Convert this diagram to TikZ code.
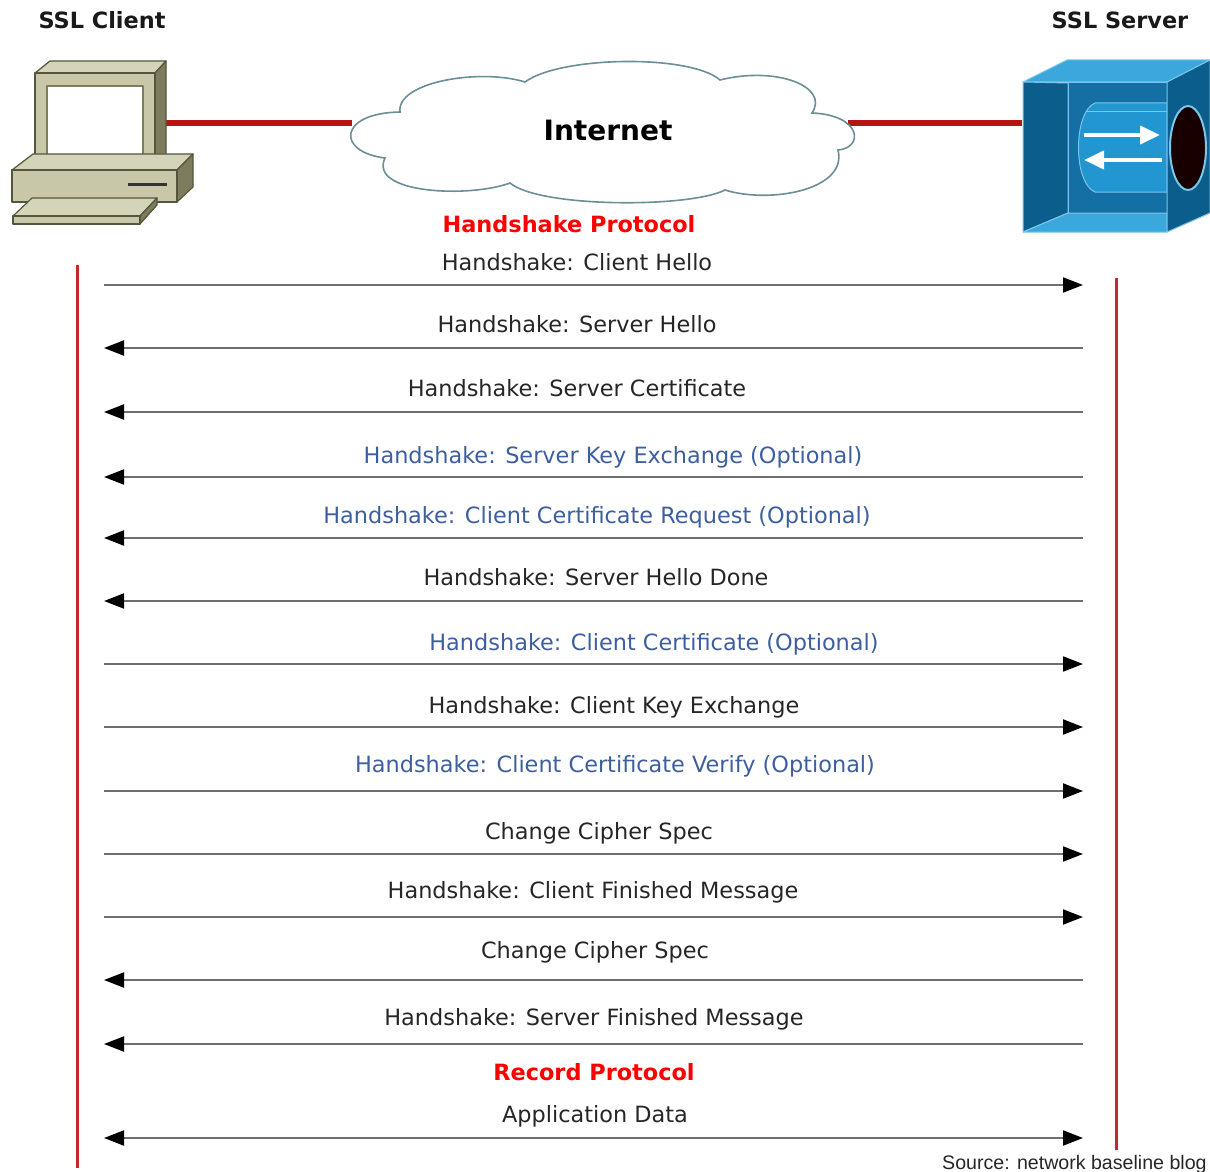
\documentclass[tikz,border=0pt]{standalone}
\usepackage{fontspec}
\setmainfont{DejaVu Sans}
\newfontfamily\srcfont{Liberation Sans}
\usetikzlibrary{arrows.meta}

\definecolor{linkred}{RGB}{180,22,22}
\definecolor{lifered}{RGB}{200,40,45}
\definecolor{optblue}{RGB}{61,95,160}
\definecolor{msggray}{RGB}{110,110,110}
\definecolor{pcfront}{RGB}{200,200,168}
\definecolor{pctop}{RGB}{212,212,184}
\definecolor{pcside}{RGB}{125,125,94}
\definecolor{pcline}{RGB}{85,85,60}
\definecolor{boxtop}{RGB}{58,168,220}
\definecolor{boxdark}{RGB}{11,94,140}
\definecolor{boxback}{RGB}{20,112,164}
\definecolor{boxdrum}{RGB}{33,150,208}
\definecolor{boxedge}{RGB}{124,196,234}
\definecolor{cloudline}{RGB}{106,143,149}

\tikzset{
	title/.style={font=\fontsize{11.2}{13}\selectfont\bfseries, text=black!90},
	proto/.style={font=\fontsize{11.2}{13}\selectfont\bfseries, text=red},
	msg/.style={font=\fontsize{11.2}{13}\selectfont, anchor=base, inner sep=0pt},
	plain/.style={text=black!85},
	optional/.style={text=optblue},
	flow/.style={draw=msggray, line width=1pt},
	toserver/.style={flow, -{Triangle[length=10pt,width=7.5pt,color=black]}},
	toclient/.style={flow, {Triangle[length=10pt,width=7.5pt,color=black]}-},
	both/.style={flow, {Triangle[length=10pt,width=7.5pt,color=black]}-{Triangle[length=10pt,width=7.5pt,color=black]}},
	lifeline/.style={draw=lifered, line width=1.5pt},
	link/.style={draw=linkred, line width=3pt},
}

\begin{document}
\begin{tikzpicture}[x=0.5pt,y=-0.5pt]
	\useasboundingbox (0,0) rectangle (1210,1172);

	% end points of the links to the cloud
	\coordinate (pc) at (165,123);
	\coordinate (netW) at (352,123);
	\coordinate (netE) at (848,123);
	\coordinate (srv) at (1022,123);
	\draw[link] (pc) -- (netW);
	\draw[link] (netE) -- (srv);

	% client computer
	\begin{scope}[draw=pcline, line width=0.6pt, line join=round]
		% monitor
		\filldraw[fill=pctop] (35,73) -- (50,61) -- (166,61) -- (155,73) -- cycle;
		\filldraw[fill=pcside] (155,73) -- (166,61) -- (166,155) -- (155,166) -- cycle;
		\filldraw[fill=pcfront] (35,73) rectangle (155,166);
		\filldraw[fill=white, draw=pcside] (47,86) rectangle (143,155);
		% system unit
		\filldraw[fill=pctop] (12,170) -- (33,154) -- (193,154) -- (177,170) -- cycle;
		\filldraw[fill=pcside] (177,170) -- (193,154) -- (193,187) -- (177,202) -- cycle;
		\filldraw[fill=pcfront] (12,170) rectangle (177,202);
		\draw[line width=1.5pt, draw=black!80] (128,184) -- (167,184);
		% keyboard
		\filldraw[fill=pctop] (32,198) -- (157,198) -- (140,216) -- (13,216) -- cycle;
		\filldraw[fill=pcside] (140,216) -- (157,198) -- (157,205) -- (140,224) -- cycle;
		\filldraw[fill=pcfront] (13,216) rectangle (140,224);
	\end{scope}

	% the server box
	\begin{scope}[draw=boxedge, line width=0.5pt, line join=round]
		\filldraw[fill=boxtop] (1023,82) -- (1067,60) -- (1210,60) -- (1167,82) -- cycle;
		\filldraw[fill=boxback] (1068,83) rectangle (1167,213);
		\filldraw[fill=boxdark] (1023,82) -- (1068,83) -- (1068,213) -- (1023,232) -- cycle;
		\filldraw[fill=boxtop] (1023,232) -- (1068,213) -- (1167,213) -- (1167,232) -- cycle;
		% drum with the two flows
		\filldraw[fill=boxdrum] (1167,103) -- (1095,103) .. controls (1073,112) and (1073,183) .. (1095,192) -- (1167,192) -- cycle;
		\draw (1086,112) -- (1167,112);
		\draw[white, line width=2pt, -{Triangle[length=10pt,width=9pt]}] (1084,135) -- (1160,135);
		\draw[white, line width=2pt, -{Triangle[length=10pt,width=9pt]}] (1162,160) -- (1084,160);
		\filldraw[fill=boxdark] (1167,82) -- (1210,60) -- (1210,213) -- (1167,232) -- cycle;
		\filldraw[fill=black!90!red, draw=boxedge, line width=1pt] (1188,148) ellipse [x radius=18, y radius=42];
	\end{scope}

	% Internet cloud
	\filldraw[fill=white, draw=cloudline, line width=0.8pt]
		(385,158) .. controls (336,152) and (338,113) .. (400,112)
		.. controls (396,82) and (480,68) .. (525,82)
		.. controls (560,56) and (690,54) .. (720,80)
		.. controls (775,66) and (830,86) .. (812,113)
		.. controls (862,115) and (864,148) .. (838,150)
		.. controls (848,190) and (770,204) .. (725,190)
		.. controls (690,208) and (540,208) .. (510,183)
		.. controls (470,198) and (368,194) .. (385,158) -- cycle;
	\node[font=\fontsize{14}{16}\selectfont\bfseries] (net) at (608,130) {Internet};

	\node[title] (client) at (102,20) {SSL Client};
	\node[title] (server) at (1120,20) {SSL Server};
	\node[proto] (hs) at (569,224) {Handshake Protocol};

	% lifelines
	\coordinate (cTop) at (77,265);
	\coordinate (cBot) at (77,1168);
	\coordinate (sTop) at (1116,278);
	\coordinate (sBot) at (1116,1150);
	\draw[lifeline] (cTop) -- (cBot);
	\draw[lifeline] (sTop) -- (sBot);

	% messages: arrow y / label baseline / label x / direction / colour / text
	\foreach \n/\y/\b/\x/\dir/\kind/\txt in {
		1/285/270/577/toserver/plain/Handshake: Client Hello,
		2/348/332/577/toclient/plain/Handshake: Server Hello,
		3/412/396/577/toclient/plain/Handshake: Server Certificate,
		4/477/463/613/toclient/optional/Handshake: Server Key Exchange (Optional),
		5/538/523/597/toclient/optional/Handshake: Client Certificate Request (Optional),
		6/601/585/596/toclient/plain/Handshake: Server Hello Done,
		7/664/650/654/toserver/optional/Handshake: Client Certificate (Optional),
		8/727/713/614/toserver/plain/Handshake: Client Key Exchange,
		9/791/772/615/toserver/optional/Handshake: Client Certificate Verify (Optional),
		10/854/839/599/toserver/plain/Change Cipher Spec,
		11/917/898/593/toserver/plain/Handshake: Client Finished Message,
		12/980/958/595/toclient/plain/Change Cipher Spec,
		13/1044/1025/594/toclient/plain/Handshake: Server Finished Message}
	{
		\coordinate (a\n) at (104,\y);
		\coordinate (b\n) at (1083,\y);
		\draw[\dir] (a\n) -- (b\n);
		\node[msg,\kind] (m\n) at (\x,\b) {\txt};
	}

	\node[proto] (rec) at (594,1072) {Record Protocol};
	\coordinate (a14) at (104,1138);
	\coordinate (b14) at (1083,1138);
	\draw[both] (a14) -- (b14);
	\node[msg,plain] (m14) at (595,1122) {Application Data};

	\node[anchor=base east, inner sep=0pt, font=\srcfont\fontsize{9.8}{12}\selectfont, text=black!85] (src) at (1207,1169) {Source: network baseline blog};
\end{tikzpicture}
\end{document}
